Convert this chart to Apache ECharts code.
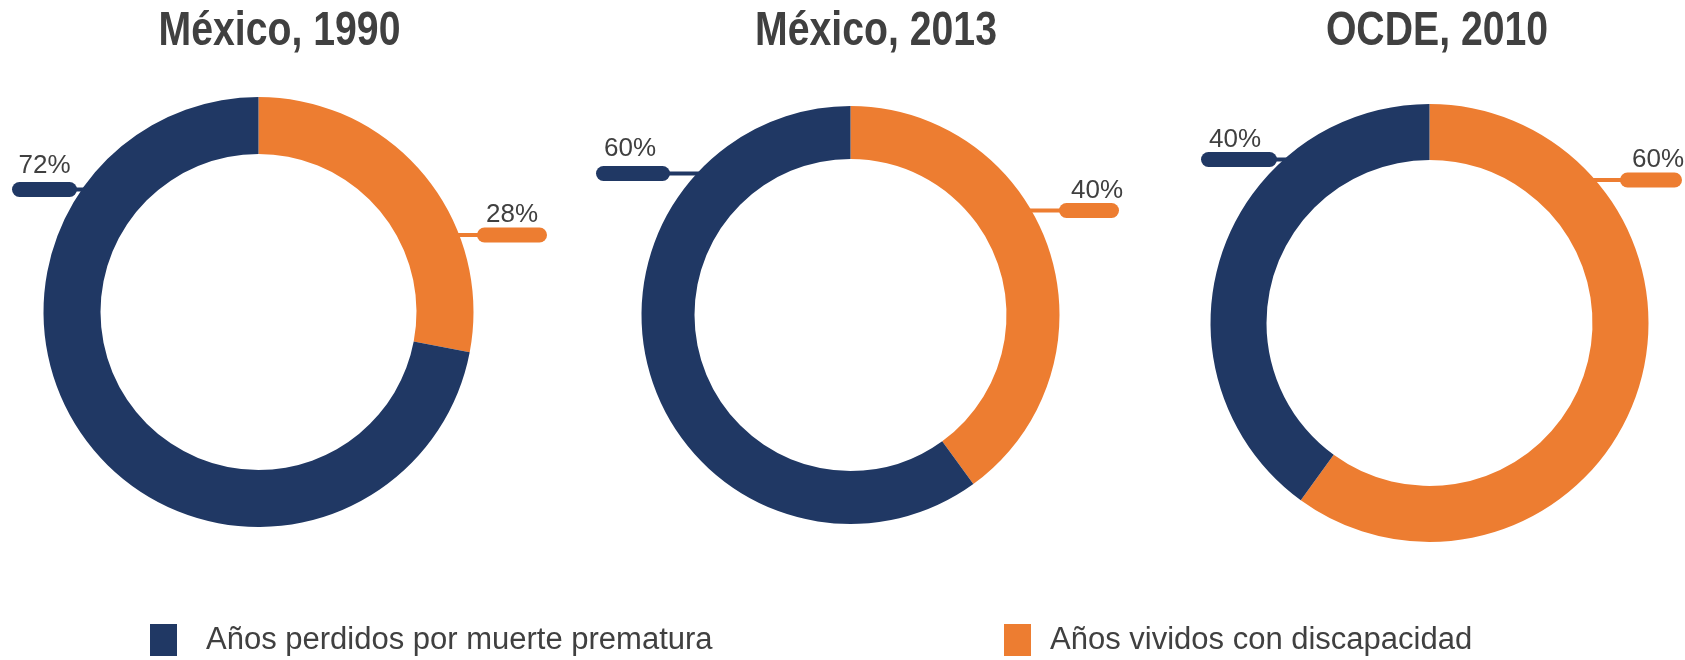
<!DOCTYPE html>
<html><head><meta charset="utf-8">
<script src="https://cdn.jsdelivr.net/npm/echarts@6/dist/echarts.min.js"></script>
<style>html,body{margin:0;padding:0;background:#fff}#c{width:1685px;height:660px}</style>
</head><body><div id="c"></div>
<script>
const titles = ['México, 1990', 'México, 2013', 'OCDE, 2010'];
const categories = ['Años vividos con discapacidad', 'Años perdidos por muerte prematura'];
const vividos = [28, 40, 60];
const perdidos = [72, 60, 40];

const colors = {'Años vividos con discapacidad': '#ED7D31', 'Años perdidos por muerte prematura': '#203864'};
const FONT = '"Liberation Sans", Arial, sans-serif';
const TXT = '#404040';
const pieGeom = [
  {center: [258.5, 312], r: [158, 215]},
  {center: [850.5, 315], r: [156, 209]},
  {center: [1429.5, 323], r: [163, 219]}
];
const titleX = [279.5, 876, 1437];
// label placement per chart: [vividos, perdidos]: pill left, right, centre y, text shift, text-to-pill gap
const labelGeom = [
  [{x0: 477, x1: 547, y: 235, dx: 0, gap: 2}, {x0: 12, x1: 77, y: 189.5, dx: 0, gap: 8}],
  [{x0: 1059, x1: 1119, y: 210.5, dx: 8, gap: 1}, {x0: 596, x1: 670, y: 173.5, dx: -3, gap: 11}],
  [{x0: 1620, x1: 1682, y: 180, dx: 7, gap: 1}, {x0: 1201, x1: 1277, y: 159.5, dx: -4, gap: 0}]
];
const PILL_H = 15;

const series = titles.map((t, i) => {
  const vals = [vividos[i], perdidos[i]];
  return {
    type: 'pie',
    center: pieGeom[i].center,
    radius: pieGeom[i].r,
    startAngle: 90,
    clockwise: true,
    avoidLabelOverlap: false,
    animation: false,
    silent: true,
    data: categories.map((name, k) => {
      const g = labelGeom[i][k];
      return {
        name: name,
        value: vals[k],
        itemStyle: {color: colors[name]},
        label: {
          rich: {
            t: {fontSize: 26, fontFamily: FONT, color: TXT, lineHeight: 24, align: 'center',
                padding: [0, Math.max(0, -2 * g.dx), g.gap, Math.max(0, 2 * g.dx)]},
            p: {width: g.x1 - g.x0, height: PILL_H, borderRadius: PILL_H / 2, backgroundColor: colors[name], align: 'center'}
          }
        },
        labelLine: {lineStyle: {color: colors[name]}}
      };
    }),
    label: {
      show: true,
      position: 'outside',
      formatter: p => '{t|' + p.value + '%}\n{p|}'
    },
    labelLine: {show: true, length: 10, length2: 10, lineStyle: {width: 4}},
    labelLayout: function (p) {
      const g = labelGeom[i][p.dataIndex];
      const geo = pieGeom[i];
      const dy = g.y - geo.center[1];
      const R = geo.r[1] - 2;
      const dx = Math.sqrt(Math.max(R * R - dy * dy, 0));
      const right = p.dataIndex === 0;
      const ax = right ? geo.center[0] + dx : geo.center[0] - dx;
      const ex = right ? g.x0 + 4 : g.x1 - 4;
      return {
        x: (g.x0 + g.x1) / 2,
        y: g.y + PILL_H / 2,
        align: 'center',
        verticalAlign: 'bottom',
        labelLinePoints: [[ax, g.y], [ex, g.y], [ex, g.y]]
      };
    }
  };
});

const option = {
  backgroundColor: '#fff',
  animation: false,
  graphic: titles.map((t, i) => ({
    type: 'text',
    x: titleX[i],
    y: 31,
    scaleX: 0.8,
    silent: true,
    style: {text: t, font: 'bold 49px ' + FONT, fill: TXT, textAlign: 'center', textVerticalAlign: 'middle'}
  })),
  legend: [
    {data: [categories[1]], left: 150, top: 624, gapText: 24},
    {data: [categories[0]], left: 1004, top: 624, gapText: 14}
  ].map(l => {
    const pad = l.gapText;
    delete l.gapText;
    return Object.assign(l, {
      icon: 'rect', itemWidth: 27, itemHeight: 32, selectedMode: false, padding: 0,
      textStyle: {fontSize: 31, fontFamily: FONT, color: TXT, padding: [0, 0, 0, pad]}
    });
  }),
  series: series
};
const chart = echarts.init(document.getElementById('c'), null, {renderer: 'canvas'});
chart.setOption(option);
</script></body></html>
